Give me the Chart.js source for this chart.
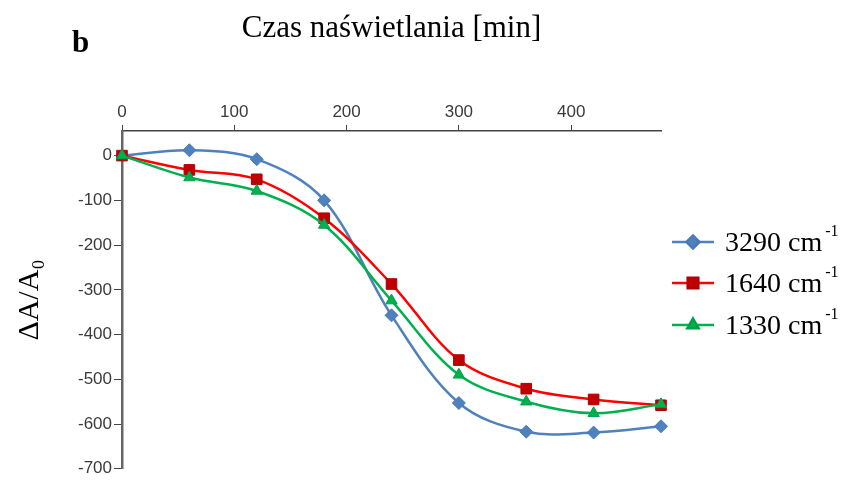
<!DOCTYPE html>
<html>
<head>
<meta charset="utf-8">
<script src="https://cdn.jsdelivr.net/npm/chart.js@4"></script>
<style>
  html, body { margin: 0; padding: 0; background: #fff; }
  #wrap { width: 845px; height: 481px; position: relative; }
</style>
</head>
<body>
<div id="wrap"><canvas id="chart" width="845" height="481"></canvas></div>
<script>
// czas naswietlania [min]
var czas = [0, 60, 120, 180, 240, 300, 360, 420, 480];
// dA/A0 dla kazdego pasma
var pasmo3290 = [0, 12, -8, -100, -357, -553, -617, -619, -605];
var pasmo1640 = [0, -32, -53, -140, -287, -457, -521, -545, -558];
var pasmo1330 = [0, -49, -79, -155, -324, -490, -550, -576, -556];
var nazwy = ['3290 cm', '1640 cm', '1330 cm'];
var xTicks = [0, 100, 200, 300, 400];
var yTicks = [0, -100, -200, -300, -400, -500, -600, -700];

function punkty(vals) {
    return czas.map(function (t, i) { return { x: t, y: vals[i] }; });
}

// legenda + litera "b" rysowane recznie (indeks gorny w cm-1)
var legendaPlugin = {
    id: 'legenda',
    afterDraw: function (chart) {
        var ctx = chart.ctx;
        ctx.save();
        ctx.fillStyle = '#000';
        ctx.font = 'bold 31px "Liberation Serif"';
        ctx.textBaseline = 'alphabetic';
        ctx.fillText('b', 72, 52);

        var ys = [242, 283, 325];
        var sets = [chart.data.datasets[2], chart.data.datasets[1], chart.data.datasets[0]];
        sets.forEach(function (ds, i) {
            var y = ys[i];
            ctx.strokeStyle = ds.borderColor;
            ctx.lineWidth = 2.5;
            ctx.beginPath();
            ctx.moveTo(672, y);
            ctx.lineTo(714, y);
            ctx.stroke();
            ctx.fillStyle = ds.pointBackgroundColor;
            ctx.strokeStyle = ds.pointBorderColor;
            Chart.helpers.drawPoint(ctx, {
                pointStyle: ds.pointStyle,
                radius: ds.pointRadius,
                rotation: 0,
                borderWidth: 1
            }, 693, y);
            ctx.fillStyle = '#000';
            ctx.font = '28px "Liberation Serif"';
            ctx.textBaseline = 'middle';
            ctx.fillText(ds.label, 725, y + 2);
            var w = ctx.measureText(ds.label).width;
            ctx.font = '16px "Liberation Serif"';
            ctx.fillText('-1', 725 + w + 3, y - 10);
        });
        ctx.restore();
    }
};

var ctx = document.getElementById('chart').getContext('2d');
var myChart = new Chart(ctx, {
    type: 'line',
    data: {
        datasets: [{
            label: nazwy[2],
            data: punkty(pasmo1330),
            borderColor: '#00B050',
            backgroundColor: '#00B050',
            pointBackgroundColor: '#00B050',
            pointBorderColor: '#00A048',
            pointStyle: 'triangle',
            pointRadius: 6.5,
            order: 0
        }, {
            label: nazwy[1],
            data: punkty(pasmo1640),
            borderColor: '#FF0000',
            backgroundColor: '#C00000',
            pointBackgroundColor: '#C00000',
            pointBorderColor: '#B00000',
            pointStyle: 'rect',
            pointRadius: 7.5,
            order: 1
        }, {
            label: nazwy[0],
            data: punkty(pasmo3290),
            borderColor: '#4F81BD',
            backgroundColor: '#4F81BD',
            pointBackgroundColor: '#4F81BD',
            pointBorderColor: '#4A7AB5',
            pointStyle: 'rectRot',
            pointRadius: 6.5,
            order: 2
        }]
    },
    options: {
        responsive: false,
        animation: false,
        layout: {
            padding: { left: 12, right: 184, top: 0, bottom: 7 }
        },
        elements: {
            line: { borderWidth: 2.5, tension: 0.35, fill: false },
            point: { borderWidth: 1 }
        },
        datasets: {
            line: { clip: false }
        },
        plugins: {
            legend: { display: false },
            tooltip: { enabled: false }
        },
        scales: {
            x: {
                type: 'linear',
                position: 'top',
                min: 0,
                max: 480,
                afterFit: function (scale) { scale.height = 131; },
                afterBuildTicks: function (scale) {
                    scale.ticks = xTicks.map(function (v) { return { value: v }; });
                },
                ticks: {
                    color: '#3a3a3a',
                    font: { family: 'Liberation Sans', size: 17 },
                    padding: 2,
                    maxRotation: 0
                },
                grid: {
                    drawOnChartArea: false,
                    drawTicks: true,
                    tickLength: 6,
                    color: '#444'
                },
                border: { display: true, color: '#444', width: 1.5 },
                title: {
                    display: true,
                    text: 'Czas naświetlania [min]',
                    color: '#000',
                    font: { family: 'Liberation Serif', size: 31 },
                    padding: { top: 10, bottom: 0 }
                }
            },
            y: {
                type: 'linear',
                min: -700,
                max: 55,
                afterFit: function (scale) { scale.width = 110; },
                afterBuildTicks: function (scale) {
                    scale.ticks = yTicks.map(function (v) { return { value: v }; });
                },
                ticks: {
                    color: '#3a3a3a',
                    font: { family: 'Liberation Sans', size: 17 },
                    padding: 2
                },
                grid: {
                    drawOnChartArea: false,
                    drawTicks: true,
                    tickLength: 8,
                    color: '#444'
                },
                border: { display: true, color: '#666', width: 2.5 },
                title: {
                    display: true,
                    text: 'ΔA/A₀',
                    color: '#000',
                    font: { family: 'Liberation Serif', size: 30 },
                    padding: { top: 0, bottom: 0 }
                }
            }
        }
    },
    plugins: [legendaPlugin]
});
</script>
</body>
</html>
